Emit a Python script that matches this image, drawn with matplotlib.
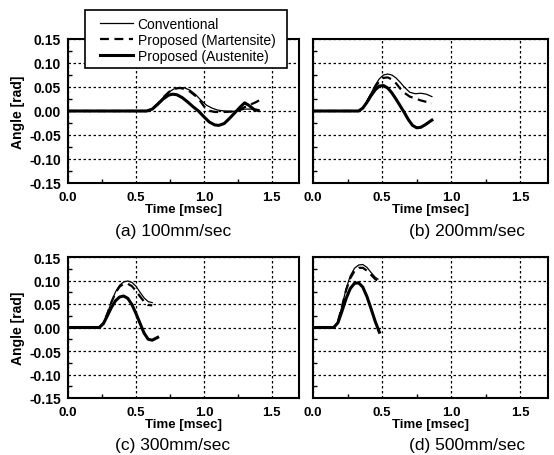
import numpy as np
import matplotlib
matplotlib.use('Agg')
import matplotlib.pyplot as plt
from matplotlib.patches import Rectangle
from matplotlib.ticker import MultipleLocator, FormatStrFormatter

plt.rcParams['font.family'] = ['Liberation Sans', 'DejaVu Sans']
plt.rcParams['axes.unicode_minus'] = False

# (a) 100mm/sec
ta_aus = [0, 0.58, 0.62, 0.66, 0.70, 0.74, 0.77, 0.80, 0.84, 0.88, 0.92, 0.96, 1.00, 1.04,
          1.08, 1.11, 1.15, 1.19, 1.23, 1.27, 1.30, 1.33, 1.37, 1.40]
ya_aus = [0, 0, 0.004, 0.014, 0.025, 0.033, 0.035, 0.034, 0.028, 0.019, 0.009, 0.000, -0.012,
          -0.023, -0.029, -0.030, -0.026, -0.015, -0.003, 0.009, 0.017, 0.012, 0.003, 0.001]
ta_mar = [0, 0.58, 0.62, 0.66, 0.70, 0.74, 0.78, 0.82, 0.86, 0.90, 0.94, 0.97, 1.00, 1.03,
          1.08, 1.15, 1.22, 1.26, 1.30, 1.34, 1.38, 1.42]
ya_mar = [0, 0, 0.004, 0.015, 0.028, 0.039, 0.046, 0.048, 0.046, 0.040, 0.031, 0.022, 0.010,
          0.001, -0.002, -0.002, -0.001, 0.002, 0.008, 0.013, 0.018, 0.024]
ta_con = [0, 0.58, 0.62, 0.66, 0.70, 0.74, 0.78, 0.82, 0.86, 0.90, 0.94, 0.98, 1.02, 1.06,
          1.10, 1.15, 1.20, 1.25, 1.30, 1.35, 1.39]
ya_con = [0, 0, 0.004, 0.015, 0.028, 0.039, 0.046, 0.049, 0.048, 0.043, 0.034, 0.022, 0.012,
          0.006, 0.002, 0.0, -0.001, 0.0, 0.004, 0.004, 0.001]

# (b) 200mm/sec
tb_aus = [0, 0.33, 0.36, 0.39, 0.42, 0.45, 0.48, 0.51, 0.54, 0.57, 0.60, 0.63, 0.66, 0.69,
          0.72, 0.75, 0.78, 0.81, 0.84, 0.86]
yb_aus = [0, 0, 0.006, 0.018, 0.032, 0.044, 0.052, 0.053, 0.048, 0.038, 0.025, 0.011, -0.003,
          -0.018, -0.030, -0.035, -0.034, -0.029, -0.023, -0.019]
tb_mar = [0, 0.33, 0.36, 0.39, 0.42, 0.45, 0.48, 0.51, 0.54, 0.57, 0.60, 0.63, 0.66, 0.70,
          0.74, 0.78, 0.82, 0.86]
yb_mar = [0, 0, 0.006, 0.019, 0.035, 0.050, 0.062, 0.069, 0.070, 0.066, 0.058, 0.047, 0.038,
          0.030, 0.026, 0.022, 0.019, 0.016]
tb_con = [0, 0.33, 0.36, 0.39, 0.42, 0.45, 0.48, 0.51, 0.54, 0.57, 0.60, 0.63, 0.66, 0.70,
          0.74, 0.78, 0.82, 0.86]
yb_con = [0, 0, 0.006, 0.020, 0.037, 0.054, 0.067, 0.075, 0.077, 0.075, 0.069, 0.060, 0.050,
          0.039, 0.036, 0.037, 0.035, 0.030]

# (c) 300mm/sec
tc_aus = [0, 0.23, 0.26, 0.29, 0.32, 0.35, 0.38, 0.41, 0.44, 0.47, 0.50, 0.53, 0.56, 0.59,
          0.62, 0.66]
yc_aus = [0, 0, 0.008, 0.025, 0.043, 0.057, 0.065, 0.067, 0.062, 0.049, 0.030, 0.009, -0.012,
          -0.025, -0.027, -0.021]
tc_mar = [0, 0.23, 0.26, 0.29, 0.32, 0.35, 0.38, 0.41, 0.44, 0.47, 0.50, 0.53, 0.56, 0.59, 0.62]
yc_mar = [0, 0, 0.009, 0.030, 0.054, 0.074, 0.087, 0.093, 0.093, 0.088, 0.078, 0.066, 0.055,
          0.048, 0.047]
tc_con = [0, 0.23, 0.26, 0.29, 0.32, 0.35, 0.38, 0.41, 0.44, 0.47, 0.50, 0.53, 0.56, 0.59, 0.62]
yc_con = [0, 0, 0.009, 0.030, 0.055, 0.076, 0.090, 0.097, 0.099, 0.096, 0.088, 0.075, 0.063,
          0.055, 0.053]

# (d) 500mm/sec
td_aus = [0, 0.15, 0.18, 0.21, 0.24, 0.27, 0.30, 0.33, 0.36, 0.39, 0.42, 0.45, 0.48]
yd_aus = [0, 0, 0.010, 0.035, 0.062, 0.083, 0.094, 0.095, 0.086, 0.066, 0.040, 0.013, -0.010]
td_mar = [0, 0.15, 0.18, 0.21, 0.24, 0.27, 0.30, 0.33, 0.36, 0.39, 0.42, 0.45, 0.48]
yd_mar = [0, 0, 0.012, 0.045, 0.080, 0.105, 0.120, 0.127, 0.127, 0.121, 0.112, 0.103, 0.097]
td_con = [0, 0.15, 0.18, 0.21, 0.24, 0.27, 0.30, 0.33, 0.36, 0.39, 0.42, 0.45, 0.47]
yd_con = [0, 0, 0.012, 0.046, 0.083, 0.110, 0.126, 0.133, 0.134, 0.128, 0.117, 0.107, 0.103]

panels = [
    ('(a) 100mm/sec', ta_con, ya_con, ta_mar, ya_mar, ta_aus, ya_aus),
    ('(b) 200mm/sec', tb_con, yb_con, tb_mar, yb_mar, tb_aus, yb_aus),
    ('(c) 300mm/sec', tc_con, yc_con, tc_mar, yc_mar, tc_aus, yc_aus),
    ('(d) 500mm/sec', td_con, yd_con, td_mar, yd_mar, td_aus, yd_aus),
]

W, H = 554, 456
fig = plt.figure(figsize=(W / 100, H / 100), dpi=100)

# axes boxes in pixels: left, top, right, bottom
boxes = [(68, 40, 299, 184), (313, 40, 548, 184), (68, 258, 299, 399), (313, 258, 548, 399)]
cap_pos = [(173, 232), (467, 232), (173, 446), (467, 446)]

for i, (cap, tc, yc, tm, ym, ta, ya) in enumerate(panels):
    l, t, r, b = boxes[i]
    ax = fig.add_axes([l / W, 1 - b / H, (r - l) / W, (b - t) / H])
    lc, = ax.plot(tc, yc, color='black', lw=0.9)
    lm, = ax.plot(tm, ym, color='black', lw=1.6, dashes=(4, 2.5))
    la, = ax.plot(ta, ya, color='black', lw=2.2)
    ax.set_xlim(0, 1.7)
    ax.set_ylim(-0.15, 0.15)
    ax.xaxis.set_major_locator(MultipleLocator(0.5))
    ax.xaxis.set_minor_locator(MultipleLocator(0.25))
    ax.yaxis.set_major_locator(MultipleLocator(0.05))
    ax.yaxis.set_minor_locator(MultipleLocator(0.025))
    ax.xaxis.set_major_formatter(FormatStrFormatter('%.1f'))
    ax.yaxis.set_major_formatter(FormatStrFormatter('%.2f'))
    ax.grid(True, color='black', ls=(0, (2, 2)), lw=0.9)
    ax.tick_params(direction='in', which='both', labelsize=10, length=3, width=1)
    ax.tick_params(which='major', length=0)
    ax.tick_params(axis='x', which='major', pad=6, labelsize=9.5)
    ax.tick_params(axis='y', which='major', pad=5)
    for lab in ax.get_xticklabels() + ax.get_yticklabels():
        lab.set_fontweight('bold')
    for s in ax.spines.values():
        s.set_linewidth(1.5)
    ax.set_xlabel('Time [msec]', fontsize=9.5, fontweight='bold', labelpad=0)
    if i % 2 == 0:
        ax.set_ylabel('Angle [rad]', fontsize=10, fontweight='bold', labelpad=3)
    else:
        ax.set_yticklabels([])
    fig.text(cap_pos[i][0] / W, 1 - cap_pos[i][1] / H, cap, fontsize=12.5,
             ha='center', va='center')

# legend frame drawn separately so the padding matches the original box
frame = Rectangle((85 / W, 1 - 69 / H), 202 / W, 58 / H, transform=fig.transFigure,
                  facecolor='white', edgecolor='black', lw=1.2, zorder=4)
fig.patches.append(frame)

leg = fig.legend([lc, lm, la],
                 ['Conventional', 'Proposed (Martensite)', 'Proposed (Austenite)'],
                 loc='upper left', bbox_to_anchor=(100 / W, 1 - 18 / H),
                 borderaxespad=0, borderpad=0, fontsize=10, frameon=False,
                 handlelength=2.4, labelspacing=0.15, handletextpad=0.3)
leg.set_zorder(5)

fig.savefig('out.png', dpi=100)
